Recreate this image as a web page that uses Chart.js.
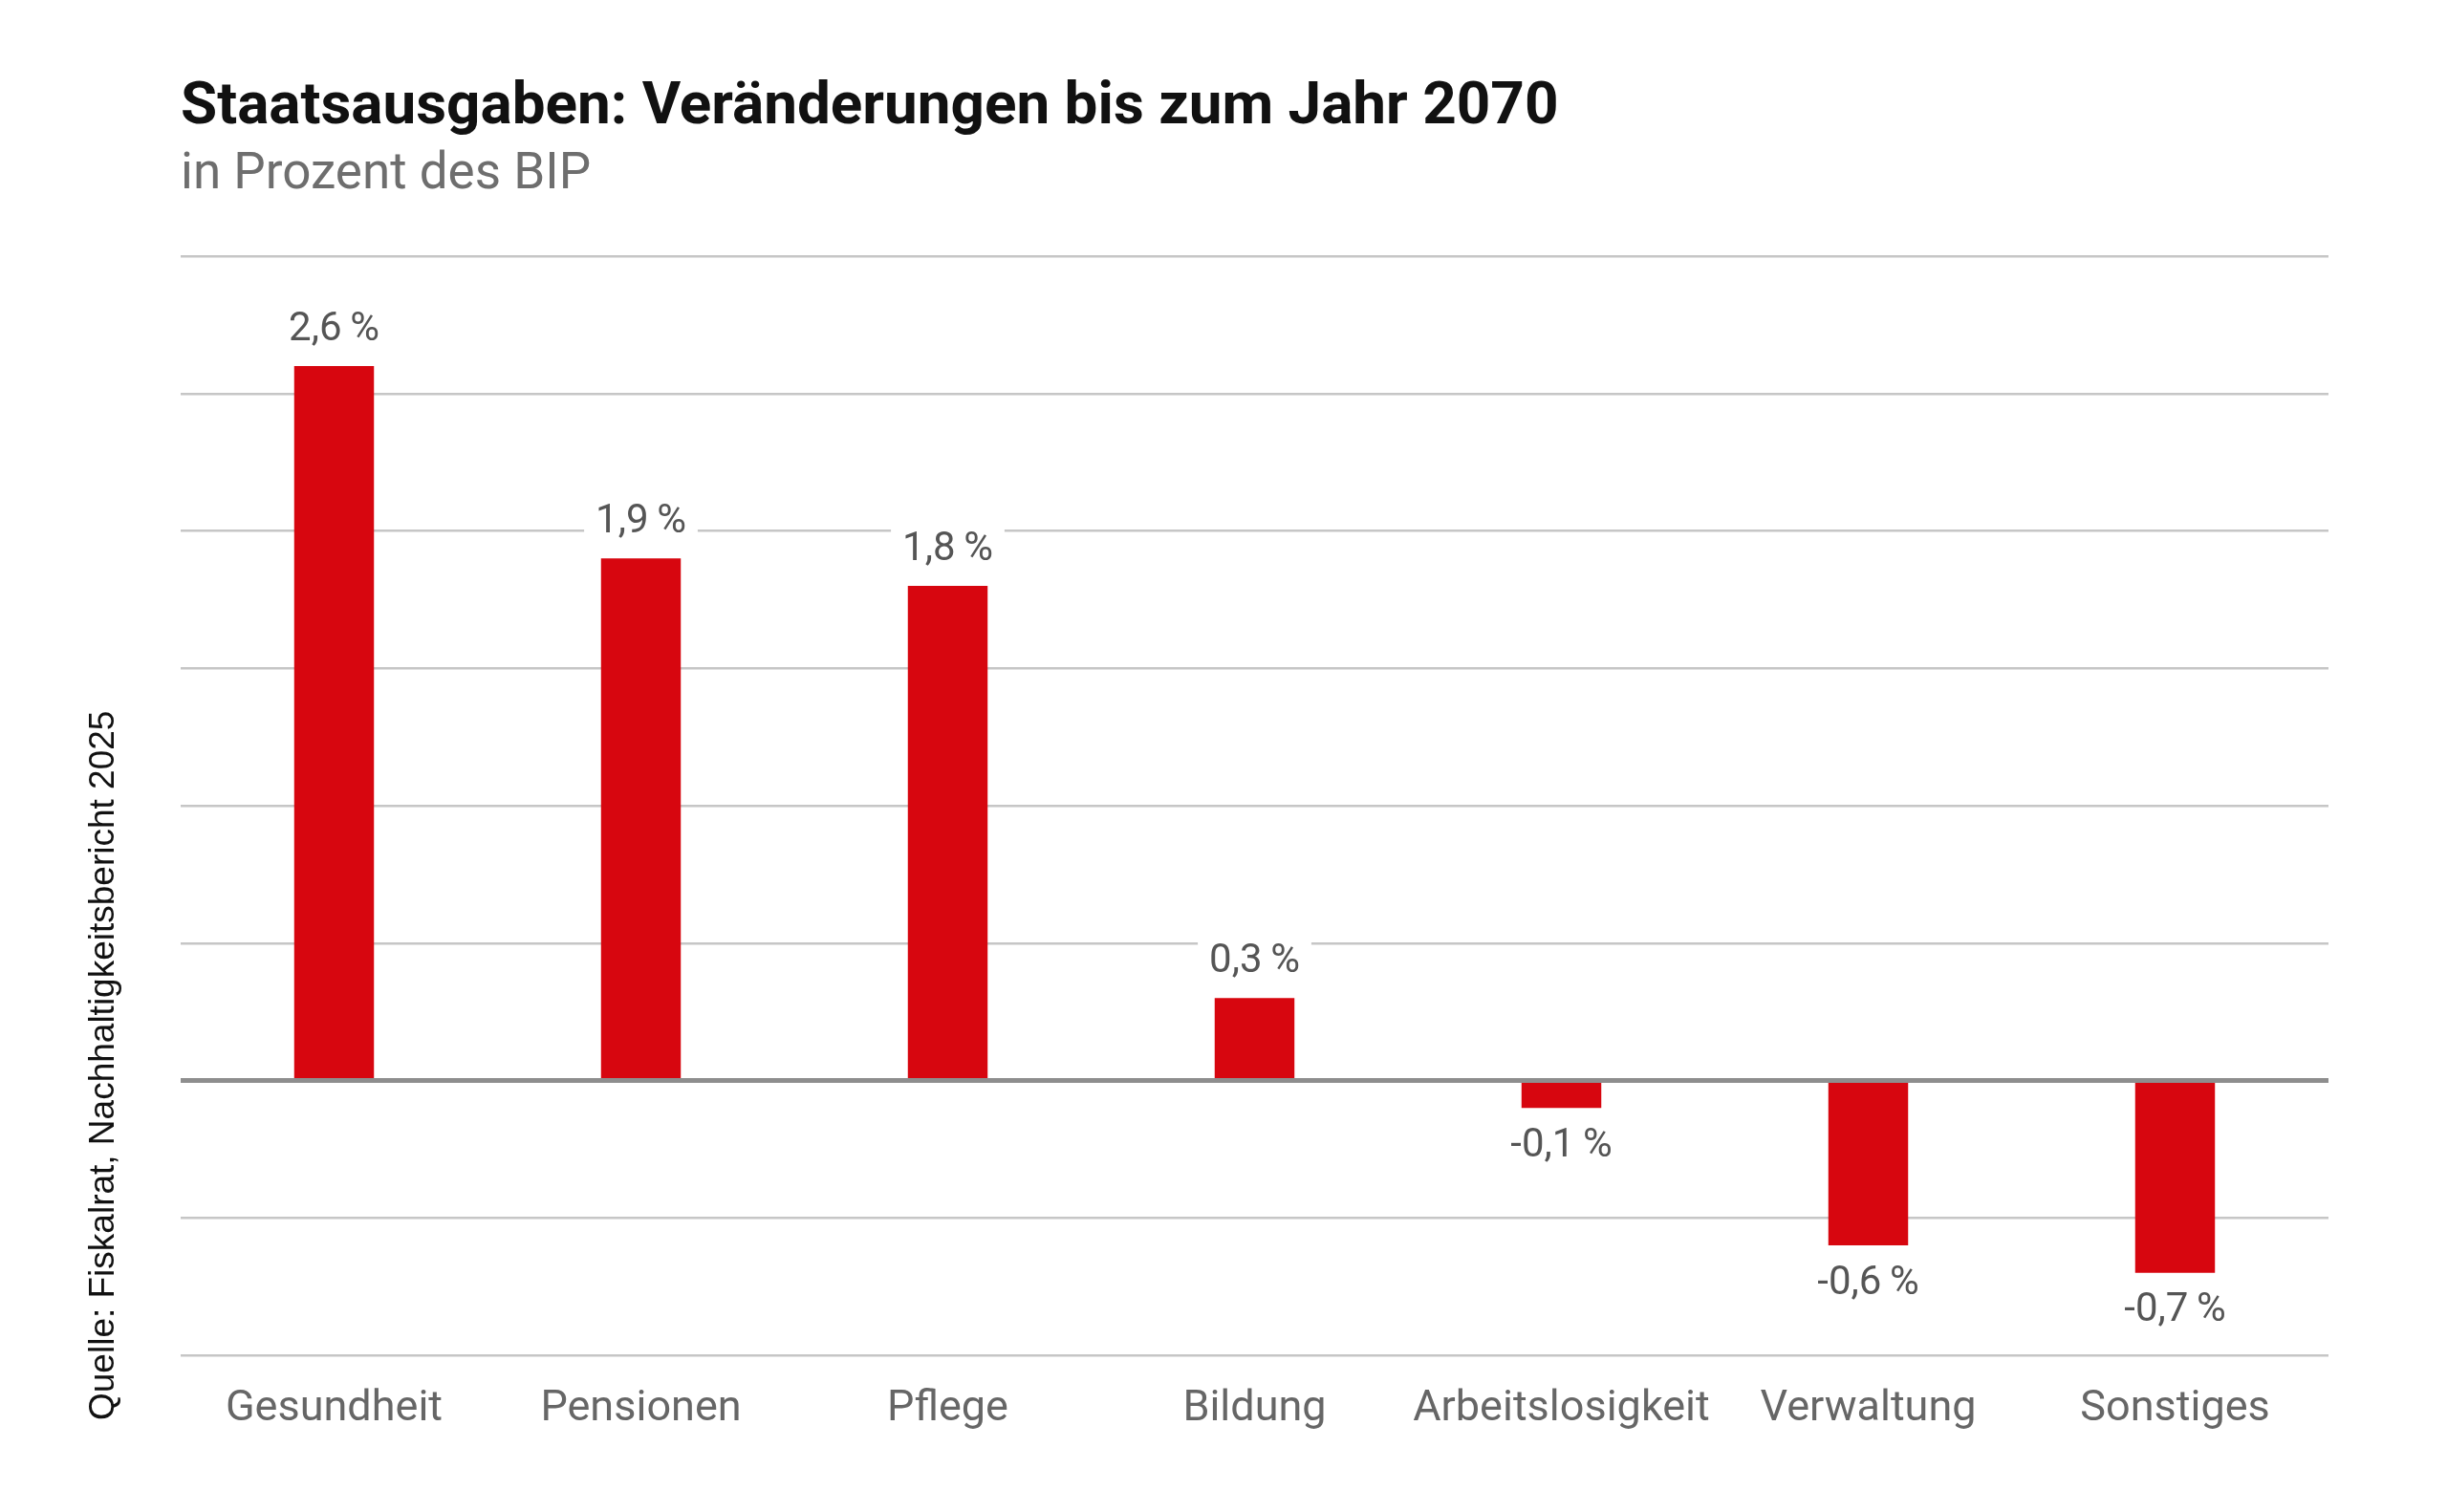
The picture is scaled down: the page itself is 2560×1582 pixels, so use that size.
<!DOCTYPE html>
<html>
<head>
<meta charset="utf-8">
<script src="https://cdn.jsdelivr.net/npm/chart.js@4/dist/chart.umd.min.js"></script>
<style>
  html, body { margin: 0; padding: 0; background: #ffffff; }
  #wrap { position: relative; width: 2560px; height: 1582px; }
</style>
</head>
<body>
<div id="wrap"><canvas id="c"></canvas></div>
<script>
const categories = ["Gesundheit", "Pensionen", "Pflege", "Bildung", "Arbeitslosigkeit", "Verwaltung", "Sonstiges"];
const values = [2.6, 1.9, 1.8, 0.3, -0.1, -0.6, -0.7];
const titleText = "Staatsausgaben: Veränderungen bis zum Jahr 2070";
const subtitleText = "in Prozent des BIP";
const sourceText = "Quelle: Fiskalrat, Nachhaltigkeitsbericht 2025";
const yMin = -1, yMax = 3, yStep = 0.5;

function fmt(v) {
  return v.toFixed(1).replace('.', ',') + '\u2009%';
}

const decor = {
  id: 'decor',
  afterDatasetsDraw(chart) {
    const ctx = chart.ctx;
    const meta = chart.getDatasetMeta(0);
    ctx.save();
    ctx.font = '42px Roboto';
    ctx.textAlign = 'center';
    ctx.textBaseline = 'middle';
    meta.data.forEach((bar, i) => {
      const v = values[i];
      const txt = fmt(v);
      const y = v >= 0 ? bar.y - 38 : bar.y + 40;
      const w = ctx.measureText(txt).width;
      ctx.fillStyle = '#ffffff';
      ctx.fillRect(bar.x - w / 2 - 12, y - 24, w + 24, 48);
      ctx.fillStyle = '#555555';
      ctx.fillText(txt, bar.x, y);
    });
    ctx.restore();
  },
  afterDraw(chart) {
    const ctx = chart.ctx;
    ctx.save();
    ctx.textAlign = 'left';
    ctx.textBaseline = 'alphabetic';
    ctx.fillStyle = '#111111';
    ctx.font = 'bold 62px Roboto';
    ctx.fillText(titleText, 189, 129);
    ctx.fillStyle = '#6e6e6e';
    ctx.font = '53px Roboto';
    ctx.fillText(subtitleText, 189, 197);
    ctx.translate(119, 1486);
    ctx.rotate(-Math.PI / 2);
    ctx.fillStyle = '#111111';
    ctx.font = '37px "Liberation Sans"';
    ctx.fillText(sourceText, 0, 0);
    ctx.restore();
  }
};

new Chart(document.getElementById('c'), {
  type: 'bar',
  data: {
    labels: categories,
    datasets: [{
      data: values,
      backgroundColor: '#d7060f',
      borderWidth: 0,
      barPercentage: 0.26,
      categoryPercentage: 1.0
    }]
  },
  options: {
    responsive: true,
    maintainAspectRatio: false,
    animation: false,
    devicePixelRatio: 1,
    layout: { padding: { left: 189, right: 124, top: 268, bottom: 50 } },
    plugins: { legend: { display: false }, tooltip: { enabled: false }, title: { display: false } },
    scales: {
      x: {
        grid: { display: false, drawTicks: false },
        border: { display: false },
        ticks: { color: '#666666', font: { family: 'Roboto', size: 45 }, padding: 30 }
      },
      y: {
        min: yMin, max: yMax,
        afterFit(scale) { scale.width = 0; },
        ticks: { display: false, stepSize: yStep },
        border: { display: false },
        grid: {
          drawTicks: false,
          color: (c) => c.tick && c.tick.value === 0 ? '#8e8e8e' : '#c6c6c6',
          lineWidth: (c) => c.tick && c.tick.value === 0 ? 5 : 2.5
        }
      }
    }
  },
  plugins: [decor]
});
</script>
</body>
</html>
